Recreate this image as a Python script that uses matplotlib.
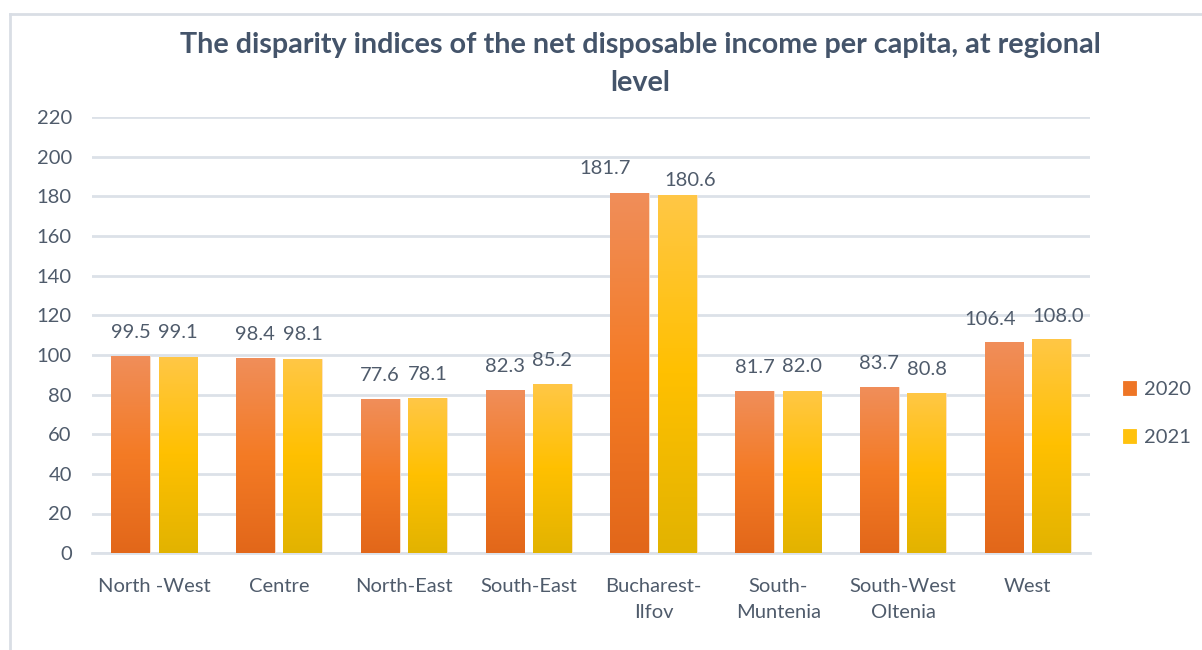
import numpy as np
import matplotlib.pyplot as plt
from matplotlib.colors import LinearSegmentedColormap
from matplotlib.lines import Line2D

regions = ['North -West', 'Centre', 'North-East', 'South-East', 'Bucharest-\nIlfov',
           'South-\nMuntenia', 'South-West\nOltenia', 'West']
vals_2020 = [99.5, 98.4, 77.6, 82.3, 181.7, 81.7, 83.7, 106.4]
vals_2021 = [99.1, 98.1, 78.1, 85.2, 180.6, 82.0, 80.8, 108.0]
yticks = list(range(0, 221, 20))

plt.rcParams['font.family'] = ['Lato', 'DejaVu Sans']
text_col = '#4F5B6B'
grid_col = '#DCE1E8'
fs = 14.5

# gradients bottom -> middle -> top
cmap_2020 = LinearSegmentedColormap.from_list('c20', ['#E2671A', '#F47B25', '#F08E5A'])
cmap_2021 = LinearSegmentedColormap.from_list('c21', ['#E2B300', '#FFC000', '#FFC746'])

# label nudges (points) where neighbouring labels would collide
nudge = {(4, 0): (-18, 11.5), (4, 1): (9, 4.5), (7, 0): (-10, 10), (7, 1): (5, 10)}

fig = plt.figure(figsize=(12.02, 6.5), dpi=100)
ax = fig.add_axes([0.0765, 0.149, 0.8305, 0.671])

x = np.arange(len(regions))
w = 0.31
off = 0.19
grad = np.linspace(0, 1, 256).reshape(-1, 1)

for k, (vals, shift, cmap, lab) in enumerate([(vals_2020, -off, cmap_2020, '2020'),
                                              (vals_2021, off, cmap_2021, '2021')]):
    bars = ax.bar(x + shift, vals, w, color=cmap(0.5), edgecolor='#FBE3D0',
                  linewidth=0.6, label=lab, zorder=3)
    for i, (b, v) in enumerate(zip(bars, vals)):
        im = ax.imshow(grad, cmap=cmap, origin='lower', aspect='auto', zorder=3.5,
                       extent=[b.get_x(), b.get_x() + b.get_width(), 0, v])
        im.set_clip_path(b)
        ax.annotate(f'{v:.1f}', (b.get_x() + b.get_width() / 2, v),
                    xytext=nudge.get((i, k), (0, 11)), textcoords='offset points',
                    ha='center', va='bottom', fontsize=fs, color=text_col)

ax.set_xlim(-0.5, len(regions) - 0.5)
ax.set_ylim(0, 220)
ax.set_yticks(yticks)
ax.set_xticks(x)
ax.set_xticklabels(regions, fontsize=fs, color=text_col, linespacing=1.65)
ax.tick_params(axis='y', labelsize=fs, labelcolor=text_col, length=0, pad=14.5)
ax.tick_params(axis='x', length=0, pad=18)
ax.grid(axis='y', color=grid_col, linewidth=2, zorder=0)
for s in ['top', 'right', 'left']:
    ax.spines[s].set_visible(False)
ax.spines['bottom'].set_color(grid_col)
ax.spines['bottom'].set_linewidth(2)

leg = ax.legend(loc='center left', bbox_to_anchor=(1.015, 0.32), frameon=False,
                fontsize=fs, handlelength=0.65, handleheight=0.65,
                handletextpad=0.4, labelspacing=1.55)
for t in leg.get_texts():
    t.set_color(text_col)
for h, c in zip(leg.legend_handles, ['#EE7526', '#FFC20E']):
    h.set_facecolor(c)
    h.set_edgecolor(c)

fig.text(640 / 1202, 1 - 64 / 650,
         'The disparity indices of the net disposable income per capita, at regional\nlevel',
         ha='center', va='center', fontsize=20.7, fontweight='bold',
         color='#44546A', linespacing=1.55)

# chart frame
fig.add_artist(Line2D([10 / 1202, 10 / 1202], [0, 1 - 14 / 650],
                      transform=fig.transFigure, color='#D9DEE5', lw=2))
fig.add_artist(Line2D([10 / 1202, 1], [1 - 14 / 650, 1 - 14 / 650],
                      transform=fig.transFigure, color='#D9DEE5', lw=2))

fig.savefig('out.png', dpi=100)
